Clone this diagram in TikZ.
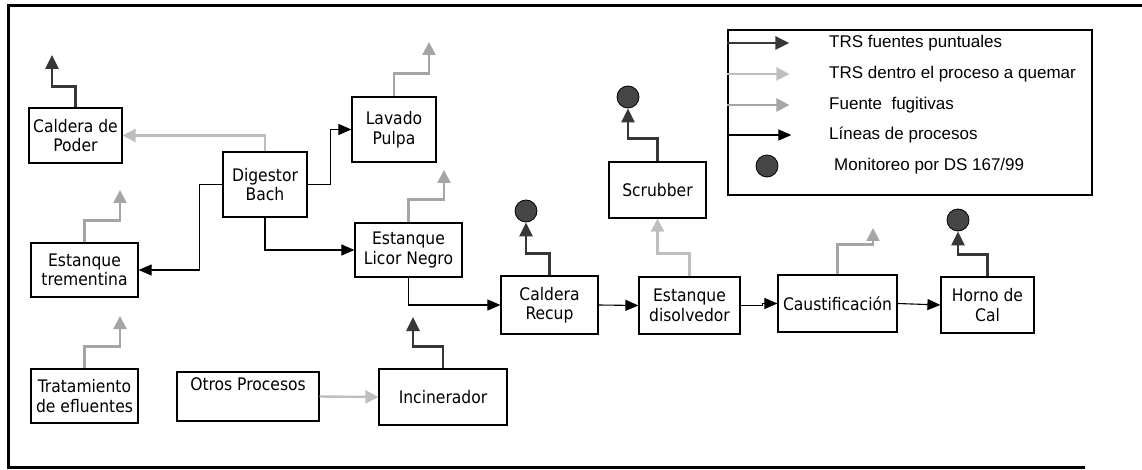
\documentclass[tikz,border=0pt]{standalone}
\usepackage{fontspec}
\usepackage{tikz}
\usetikzlibrary{arrows.meta,positioning}
\newfontfamily\boxfont{DejaVu Sans Condensed}
\newfontfamily\legfont{Liberation Sans}
\definecolor{trsdark}{RGB}{55,55,55}
\definecolor{trsburn}{RGB}{190,190,190}
\definecolor{trsfug}{RGB}{165,165,165}
\definecolor{monfill}{RGB}{70,70,70}

\begin{document}
\begin{tikzpicture}[
  x=1pt, y=-1pt,
  box/.style={
    draw=black,
    line width=1.2pt,
    inner sep=0pt,
    align=center,
    font=\boxfont\fontsize{17.3}{19.5}\selectfont
  },
  legtext/.style={anchor=west, inner sep=0pt, font=\legfont\fontsize{17}{19}\selectfont},
  monitor/.style={circle, draw=black, line width=0.8pt, fill=monfill, minimum size=22pt, inner sep=0pt},
  fuente/.style={-{Triangle[length=14pt,width=13pt]}, line width=2.8pt, draw=trsdark},
  quemar/.style={-{Triangle[length=13pt,width=13pt]}, line width=2.4pt, draw=trsburn},
  fugitiva/.style={-{Triangle[length=13pt,width=13pt]}, line width=2.4pt, draw=trsfug},
  proceso/.style={-{Triangle[length=13pt,width=11pt]}, line width=1.1pt, draw=black}
]
\useasboundingbox (0,0) rectangle (1142,470);
\draw[line width=3pt] (1142,6) -- (8,6) -- (8,467) -- (1085,467);

\node[box, minimum width=93pt, minimum height=55pt] (poder) at (75.5,135.5) {Caldera de\\Poder};
\node[box, minimum width=84pt, minimum height=65pt] (digestor) at (265,184.5) {Digestor\\Bach};
\node[box, minimum width=84pt, minimum height=65pt] (lavado) at (394,129.5) {Lavado\\Pulpa};
\node[box, minimum width=107pt, minimum height=54pt] (trementina) at (84.5,270) {Estanque\\trementina};
\node[box, minimum width=107pt, minimum height=54pt] (tratamiento) at (84.5,396) {Tratamiento\\de efluentes};
\node[box, minimum width=142pt, minimum height=49pt] (otros) at (248,396.5) {Otros Procesos\\\strut};
\node[box, minimum width=128pt, minimum height=56pt] (incinerador) at (443,397) {Incinerador};
\node[box, minimum width=107pt, minimum height=54pt] (licor) at (408.5,250) {Estanque\\Licor Negro};
\node[box, minimum width=97pt, minimum height=58pt] (recup) at (549.5,305) {Caldera\\Recup};
\node[box, minimum width=101pt, minimum height=57pt] (disolvedor) at (689.5,305.5) {Estanque\\disolvedor};
\node[box, minimum width=97pt, minimum height=56pt] (scrubber) at (657.5,190) {Scrubber};
\node[box, minimum width=119pt, minimum height=57pt] (caust) at (837.5,303.5) {Caustificación};
\node[box, minimum width=93pt, minimum height=56pt] (horno) at (987.5,305) {Horno de\\Cal};

\node[monitor] (monRecup) at (526,211) {};
\node[monitor] (monScrub) at (628,97) {};
\node[monitor] (monHorno) at (958,220) {};

\coordinate (poderOut) at (52,55);
\coordinate (lavadoOut) at (429,42);
\coordinate (trementinaOut) at (120,190);
\coordinate (tratamientoOut) at (120,316);
\coordinate (incineradorOut) at (413,317);
\coordinate (licorOut) at (444,170);
\coordinate (caustOut) at (873,228);

\draw[fuente] (poder.north) -- ++(0,-21) -| (poderOut);
\draw[quemar] (digestor.north) |- (poder.east);
\draw[proceso] (digestor.east) -- ++(23,0) |- (lavado.west);
\draw[fugitiva] (lavado.north) -- ++(0,-23) -| (lavadoOut);
\draw[proceso] (digestor.west) -- ++(-23,0) |- (trementina.east);
\draw[proceso] (digestor.south) |- (licor.west);
\draw[fugitiva] (trementina.north) -- ++(0,-22) -| (trementinaOut);
\draw[fugitiva] (tratamiento.north) -- ++(0,-22) -| (tratamientoOut);
\draw[quemar] (otros.east) -- (incinerador.west);
\draw[fuente] (incinerador.north) -- ++(0,-22) -| (incineradorOut);
\draw[fugitiva] (licor.north) -- ++(0,-23) -| (licorOut);
\draw[proceso] (licor.south) |- (recup.west);
\draw[fuente] (recup.north) -- ++(0,-22) -| (monRecup.south);
\draw[proceso] (recup.east) -- (disolvedor.west);
\draw[quemar] (disolvedor.north) -- ++(0,-23) -| (scrubber.south);
\draw[fuente] (scrubber.north) -- ++(0,-23) -| (monScrub.south);
\draw[proceso] (disolvedor.east) -- ++(22,0) |- (caust.west);
\draw[fugitiva] (caust.north) -- ++(0,-30) -| (caustOut);
\draw[proceso] (caust.east) -- (horno.west);
\draw[fuente] (horno.north) -- ++(0,-22) -| (monHorno.south);

\node[draw, line width=1.2pt, minimum width=364pt, minimum height=165pt, inner sep=0pt] (legend) at (910,112.5) {};
\node[legtext] (leg1) at (829,43) {TRS fuentes puntuales};
\node[legtext] (leg2) at (829,74) {TRS dentro el proceso a quemar};
\node[legtext] (leg3) at (829,105) {Fuente~ fugitivas};
\node[legtext] (leg4) at (829,135) {Líneas de procesos};
\node[legtext] (leg5) at (834,166) {Monitoreo por DS 167/99};
\node[monitor] (monLeg) at (767,166) {};
\draw[fuente] (legend.west |- leg1) -- ++(62,0);
\draw[quemar] (legend.west |- leg2) -- ++(62,0);
\draw[fugitiva] (legend.west |- leg3) -- ++(62,0);
\draw[proceso] (legend.west |- leg4) -- ++(64,0);
\end{tikzpicture}
\end{document}
